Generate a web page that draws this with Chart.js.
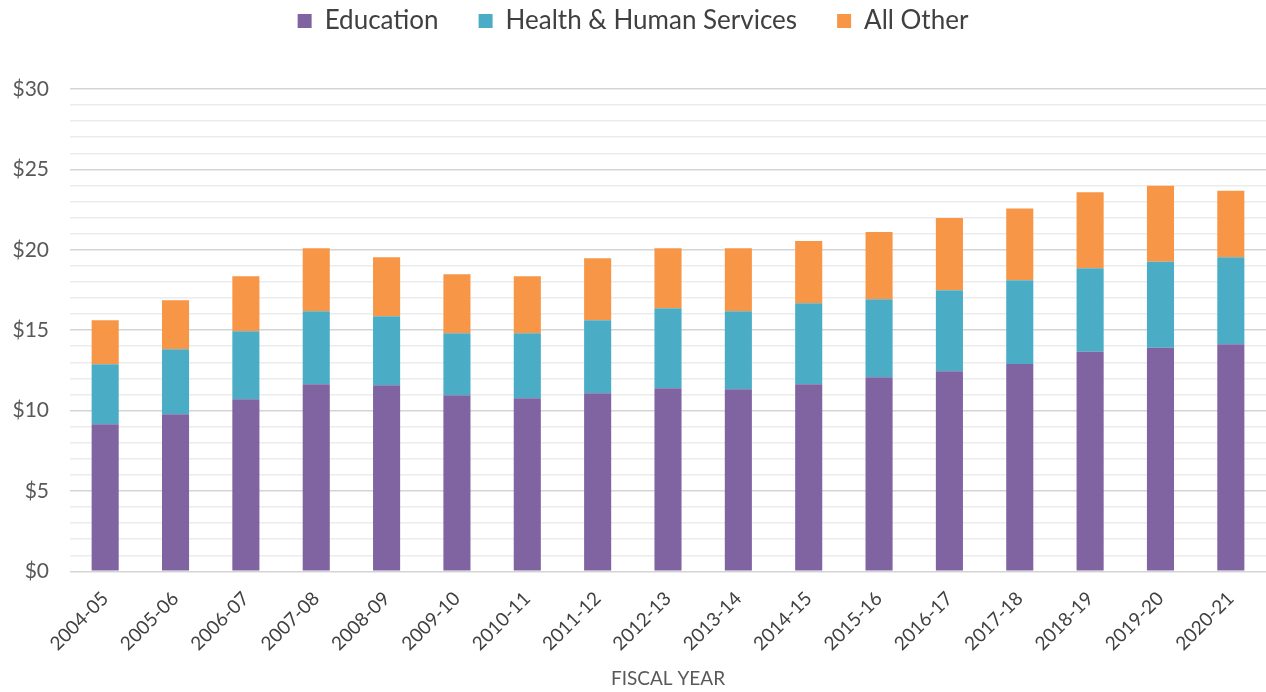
<!DOCTYPE html>
<html>
<head>
<meta charset="utf-8">
<script src="https://cdn.jsdelivr.net/npm/chart.js@4.4.1/dist/chart.umd.min.js"></script>
<style>
  html, body { margin: 0; padding: 0; background: #fff; }
  #wrap { width: 1266px; height: 692px; }
</style>
</head>
<body>
<div id="wrap"><canvas id="chart"></canvas></div>
<script>
// fiscal years (x axis)
const years = ['2004-05', '2005-06', '2006-07', '2007-08', '2008-09', '2009-10', '2010-11', '2011-12',
  '2012-13', '2013-14', '2014-15', '2015-16', '2016-17', '2017-18', '2018-19', '2019-20', '2020-21'];

// billions of dollars
const education = [9.15, 9.77, 10.7, 11.64, 11.57, 10.95, 10.77, 11.08, 11.39, 11.33, 11.64, 12.07, 12.45, 12.9, 13.65, 13.9, 14.13];
const healthHuman = [3.73, 4.04, 4.23, 4.54, 4.3, 3.86, 4.04, 4.54, 4.98, 4.85, 5.04, 4.86, 5.04, 5.21, 5.2, 5.35, 5.41];
const allOther = [2.74, 3.05, 3.43, 3.92, 3.67, 3.67, 3.55, 3.86, 3.73, 3.92, 3.86, 4.17, 4.48, 4.46, 4.73, 4.73, 4.13];

const yTicks = [0, 5, 10, 15, 20, 25, 30];

// legend sits high, plot starts lower: give the legend box a fixed height
const legendHeight = {
  id: 'legendHeight',
  beforeInit(chart) {
    const fit = chart.legend.fit;
    chart.legend.fit = function () {
      fit.call(this);
      this.height = 121;
    };
  }
};

const ctx = document.getElementById('chart').getContext('2d');

new Chart(ctx, {
  type: 'bar',
  data: {
    labels: years,
    datasets: [
      { label: 'Education', data: education, backgroundColor: '#8064A2' },
      { label: 'Health & Human Services', data: healthHuman, backgroundColor: '#4BACC6' },
      { label: 'All Other', data: allOther, backgroundColor: '#F79646' }
    ]
  },
  plugins: [legendHeight],
  options: {
    responsive: true,
    maintainAspectRatio: false,
    animation: false,
    datasets: {
      bar: { categoryPercentage: 1, barPercentage: 0.385 }
    },
    layout: { padding: { left: 0, right: 0, top: -32, bottom: 2 } },
    plugins: {
      legend: {
        position: 'top',
        labels: {
          boxWidth: 14,
          boxHeight: 14,
          padding: 40,
          color: '#404040',
          font: { family: 'Lato', size: 26 }
        }
      },
      tooltip: { enabled: false }
    },
    scales: {
      x: {
        stacked: true,
        grid: { display: false },
        border: { display: false },
        ticks: {
          maxRotation: 45,
          minRotation: 45,
          color: '#404040',
          padding: 8,
          font: { family: 'Lato', size: 19 }
        },
        title: {
          display: true,
          text: 'FISCAL YEAR',
          color: '#595959',
          padding: { top: 4, bottom: 0 },
          font: { family: 'Lato', size: 19 }
        }
      },
      y: {
        stacked: true,
        min: 0,
        max: 30,
        afterFit: (axis) => { axis.width = 70; },
        border: { display: false },
        grid: {
          lineWidth: 1.5,
          drawTicks: false,
          color: (c) => (c.tick && c.tick.value % 5 === 0) ? '#d4d4d4' : '#ececec'
        },
        ticks: {
          stepSize: 1,
          autoSkip: false,
          padding: 21,
          color: '#595959',
          font: { family: 'Lato', size: 21 },
          callback: (v) => yTicks.includes(v) ? '$' + v : ''
        }
      }
    }
  }
});
</script>
</body>
</html>
